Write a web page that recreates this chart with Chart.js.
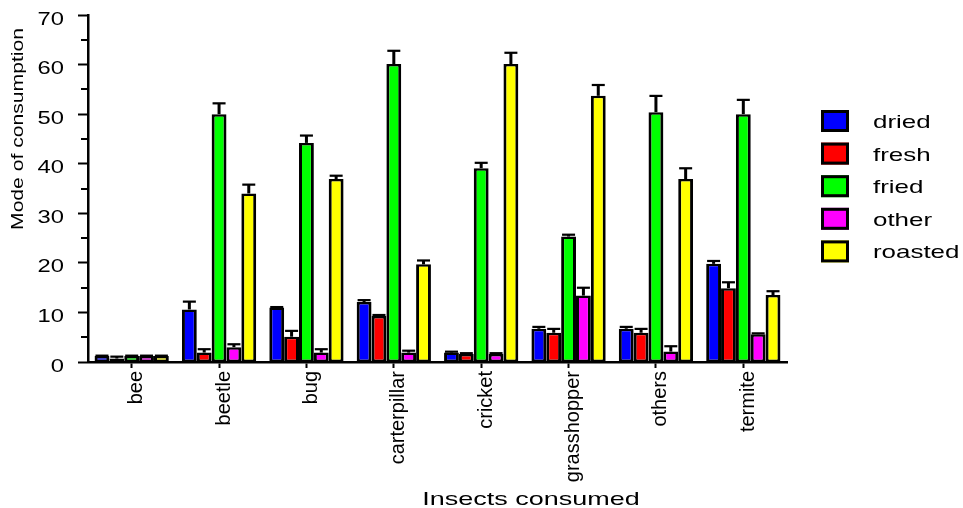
<!DOCTYPE html>
<html>
<head>
<meta charset="utf-8">
<title>Mode of consumption by insect</title>
<script src="https://cdn.jsdelivr.net/npm/chart.js@4/dist/chart.umd.min.js"></script>
<style>
  html, body { margin: 0; padding: 0; background: #ffffff; }
  #wrap { width: 963px; height: 508px; position: relative; }
</style>
</head>
<body>
<div id="wrap"><canvas id="chart"></canvas></div>
<script>
// Insect categories on the x axis
const categories = ['bee', 'beetle', 'bug', 'carterpillar', 'cricket', 'grasshopper', 'others', 'termite'];

// Mean mode-of-consumption score per preparation method
const dried   = [1.2, 10.6, 11.0, 12.1, 1.9,  6.7,  6.7, 19.8];
const fresh   = [0.7,  1.9,  5.1,  9.3, 1.6,  5.9,  5.9, 14.9];
const fried   = [1.2, 50.0, 44.2, 60.1, 39.1, 25.3, 50.4, 50.0];
const other   = [1.2,  3.0,  1.9,  1.9, 1.6, 13.4,  2.1,  5.6];
const roasted = [1.2, 34.0, 36.9, 19.7, 60.1, 53.7, 36.9, 13.5];

// Upper error (standard error) for each bar
const driedErr   = [0.1, 1.6, 0.1, 0.4, 0.2, 0.4, 0.4, 0.6];
const freshErr   = [0.4, 0.7, 1.2, 0.2, 0.2, 0.8, 0.8, 1.2];
const friedErr   = [0.1, 2.2, 1.5, 2.7, 1.1, 0.4, 3.3, 2.9];
const otherErr   = [0.1, 0.6, 0.7, 0.4, 0.2, 1.6, 1.1, 0.2];
const roastedErr = [0.1, 1.8, 0.7, 0.8, 2.3, 2.2, 2.2, 0.8];

// y axis range and labelled ticks
const yMin = 0, yMax = 70, yStep = 10;
const yMinorTicks = [5, 15, 25, 35, 45, 55, 65];

const seriesNames = ['dried', 'fresh', 'fried', 'other', 'roasted'];
const seriesColors = ['#0000ff', '#ff0000', '#00ff00', '#ff00ff', '#ffff00'];
const seriesValues = [dried, fresh, fried, other, roasted];
const seriesErrors = [driedErr, freshErr, friedErr, otherErr, roastedErr];

const FONT = '"Liberation Sans", Arial, Helvetica, sans-serif';

// Text drawn stretched along its writing direction
function wideText(ctx, str, x, y, align, size, sx, angle) {
  ctx.save();
  ctx.font = size + 'px ' + FONT;
  ctx.fillStyle = '#000';
  ctx.textAlign = 'left';
  ctx.textBaseline = 'alphabetic';
  const w = ctx.measureText(str).width * sx;
  ctx.translate(x, y);
  if (angle) ctx.rotate(angle);
  const start = align === 'right' ? -w : align === 'center' ? -w / 2 : 0;
  ctx.translate(start, 0);
  ctx.scale(sx, 1);
  ctx.fillText(str, 0, 0);
  ctx.restore();
}

// Upper whisker with a cap above every bar
const errorBars = {
  id: 'errorBars',
  afterDatasetsDraw(chart) {
    const ctx = chart.ctx;
    const ys = chart.scales.y;
    ctx.save();
    ctx.fillStyle = '#000';
    chart.data.datasets.forEach((ds, di) => {
      const meta = chart.getDatasetMeta(di);
      meta.data.forEach((bar, i) => {
        const err = seriesErrors[di][i];
        const yTop = ys.getPixelForValue(ds.data[i] + err);
        const yBar = bar.y;
        if (yBar - yTop > 0.5) {
          ctx.fillRect(bar.x - 1.5, yTop, 3, yBar - yTop);
        }
        ctx.fillRect(bar.x - 6.5, yTop - 1, 13, 2.2);
      });
    });
    ctx.restore();
  }
};

// Axis texts, minor ticks and the series key
const decorations = {
  id: 'decorations',
  afterDraw(chart) {
    const ctx = chart.ctx;
    const ys = chart.scales.y;
    const area = chart.chartArea;

    ctx.save();
    ctx.strokeStyle = '#000';
    ctx.lineWidth = 2;
    yMinorTicks.forEach(v => {
      const py = Math.round(ys.getPixelForValue(v));
      ctx.beginPath();
      ctx.moveTo(area.left - 7, py);
      ctx.lineTo(area.left, py);
      ctx.stroke();
    });
    ctx.restore();

    ys.ticks.forEach((t, i) => {
      const py = ys.getPixelForTick(i);
      wideText(ctx, String(t.value), 64, py + 9.5, 'right', 18, 1.32);
    });

    wideText(ctx, 'Mode of consumption', 23, 129, 'center', 16, 1.32, -Math.PI / 2);

    wideText(ctx, 'Insects consumed', 531, 505, 'center', 19, 1.42);

    chart.data.datasets.forEach((ds, i) => {
      const cy = 121 + i * 32.6;
      ctx.save();
      ctx.fillStyle = ds.backgroundColor;
      ctx.fillRect(821, cy - 11, 28, 22);
      ctx.strokeStyle = '#000';
      ctx.lineWidth = 3;
      ctx.strokeRect(822.5, cy - 9.5, 25, 19);
      ctx.restore();
      wideText(ctx, ds.label, 873, cy + 7, 'left', 18.5, 1.4);
    });
  }
};

const datasets = seriesNames.map((name, i) => ({
  label: name,
  data: seriesValues[i],
  backgroundColor: seriesColors[i],
  borderColor: '#000000',
  borderWidth: { top: 2.5, bottom: 2, left: 3, right: 3 },
  borderSkipped: false,
  categoryPercentage: 0.85,
  barPercentage: 1.0
}));

new Chart(document.getElementById('chart'), {
  type: 'bar',
  data: { labels: categories, datasets },
  plugins: [errorBars, decorations],
  options: {
    responsive: true,
    maintainAspectRatio: false,
    animation: false,
    layout: { padding: { top: 15, right: 176, left: 0, bottom: 0 } },
    plugins: {
      legend: { display: false },
      tooltip: { enabled: false },
      title: { display: false }
    },
    scales: {
      x: {
        grid: { display: true, drawOnChartArea: false, offset: false, tickLength: 6, tickWidth: 2, tickColor: '#000' },
        border: { display: true, color: '#000', width: 2.5 },
        ticks: {
          color: '#000',
          font: { family: FONT, size: 20 },
          minRotation: 90,
          maxRotation: 90,
          autoSkip: false,
          padding: 3,
          labelOffset: 5
        },
        afterFit(scale) { scale.height = 146; }
      },
      y: {
        min: yMin,
        max: yMax,
        grid: { display: true, drawOnChartArea: false, tickLength: 10, tickWidth: 2, tickColor: '#000' },
        border: { display: true, color: '#000', width: 2.5 },
        ticks: {
          stepSize: yStep,
          color: 'rgba(0,0,0,0)',
          font: { family: FONT, size: 18 }
        },
        afterFit(scale) { scale.width = 88; }
      }
    }
  }
});
</script>
</body>
</html>
